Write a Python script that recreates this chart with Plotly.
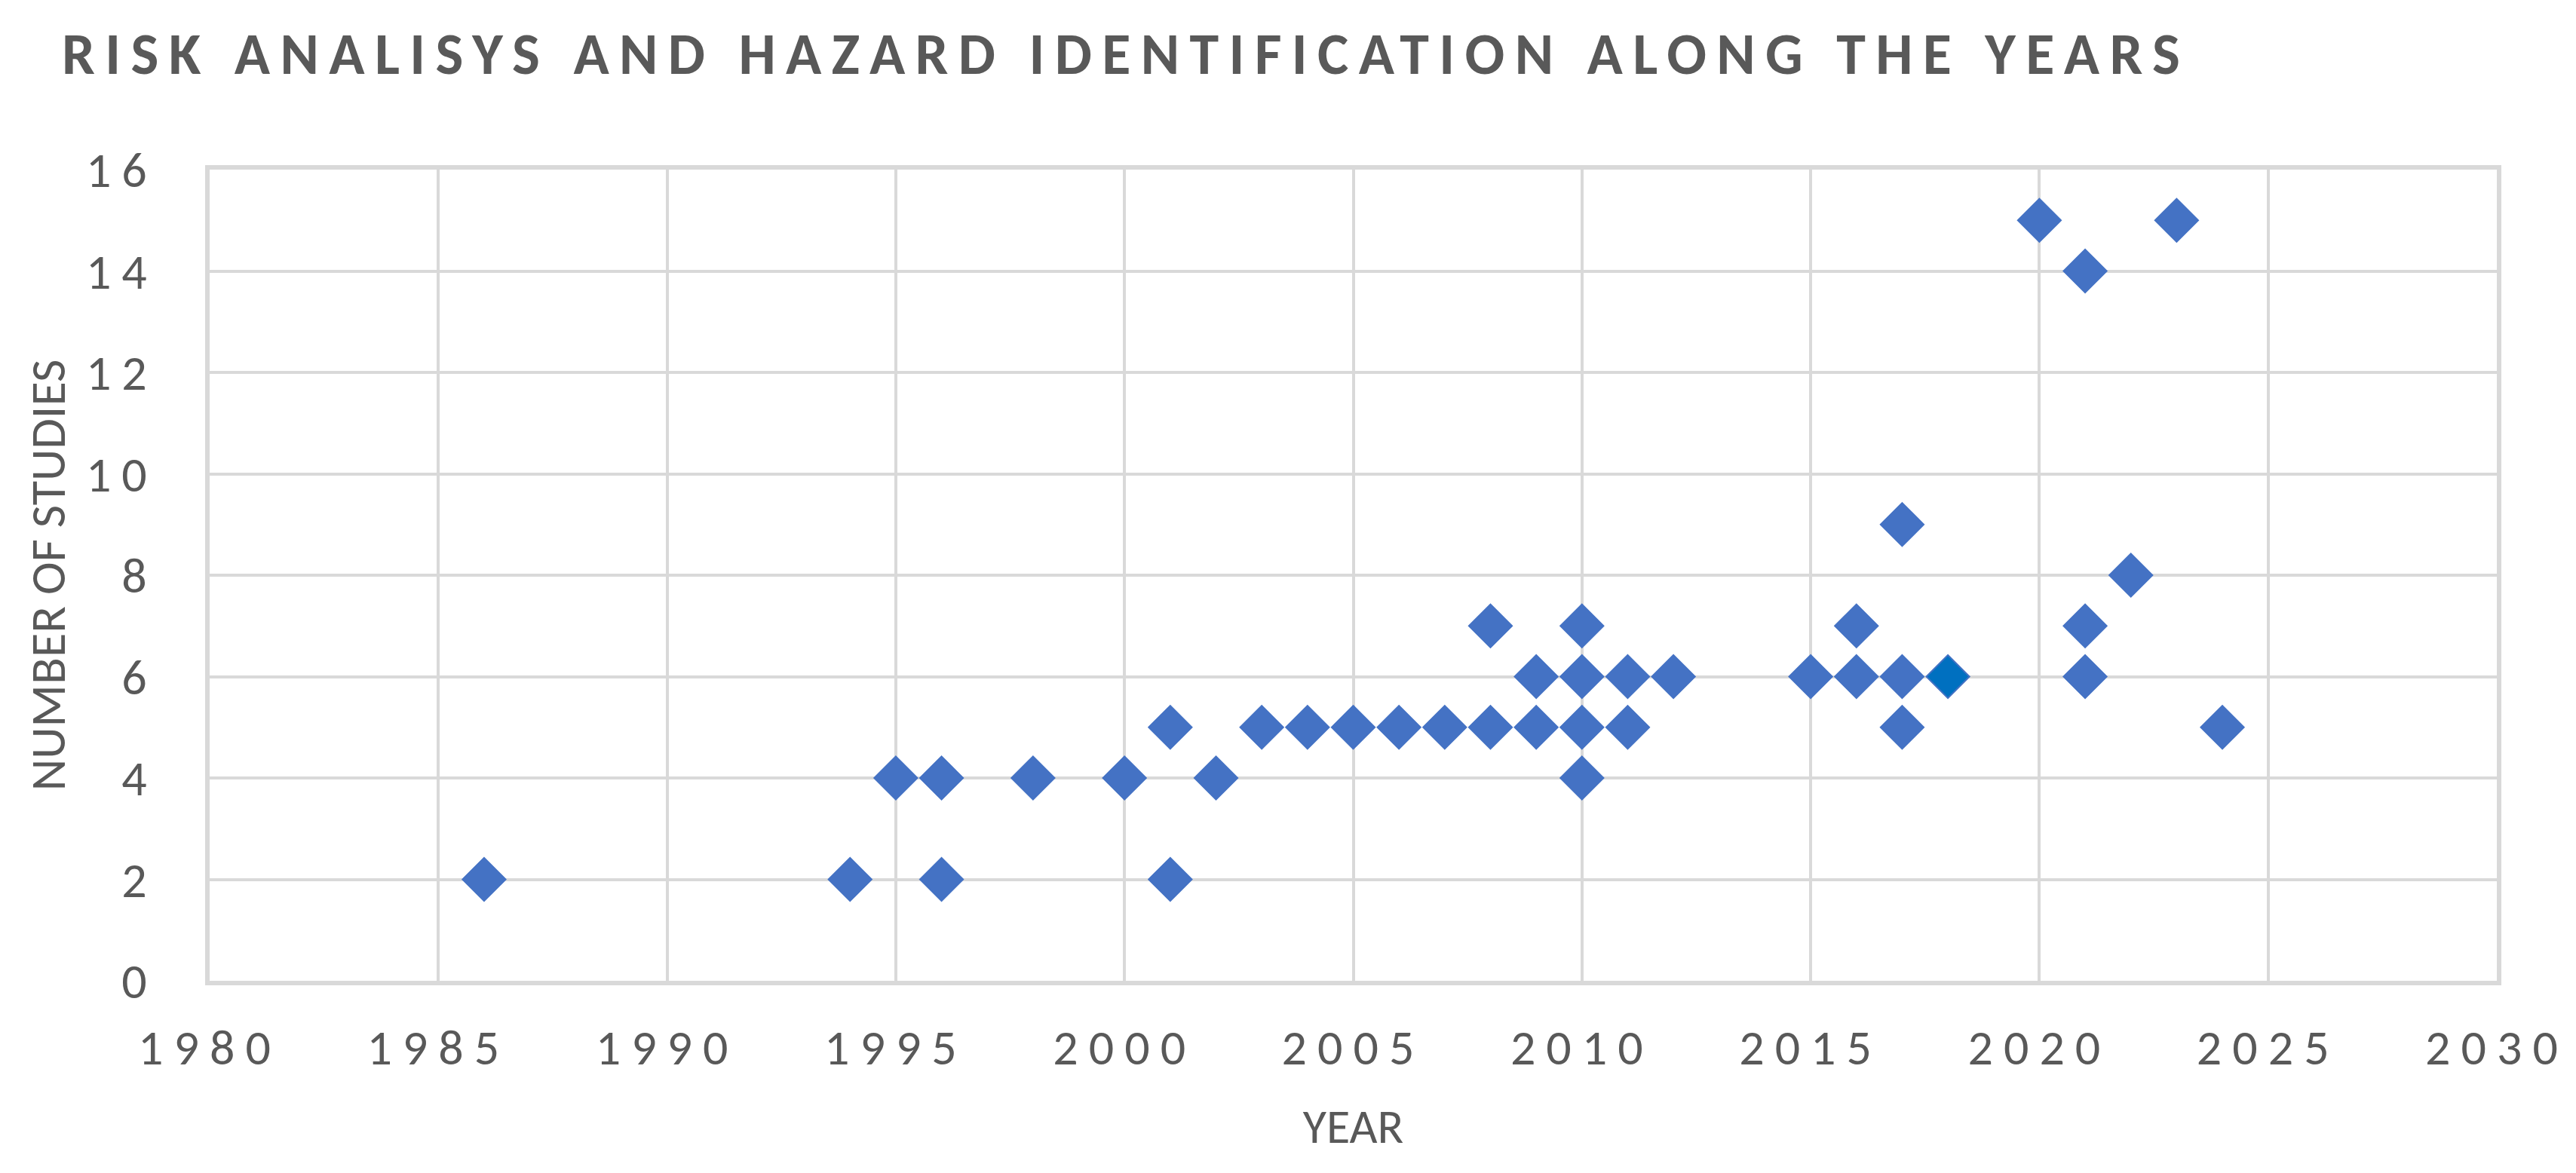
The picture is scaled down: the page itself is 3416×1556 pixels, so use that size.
import plotly.graph_objects as go

years = [1986, 1994, 1995, 1996, 1996, 1998, 2000, 2001, 2001, 2002,
         2003, 2004, 2005, 2006, 2007, 2008, 2008, 2009, 2009,
         2010, 2010, 2010, 2010, 2011, 2011, 2012, 2015, 2016, 2016,
         2017, 2017, 2017, 2018, 2020, 2021, 2021, 2021, 2022, 2023, 2024]
studies = [2, 2, 4, 4, 2, 4, 4, 5, 2, 4,
           5, 5, 5, 5, 5, 7, 5, 6, 5,
           7, 6, 5, 4, 6, 5, 6, 6, 7, 6,
           9, 6, 5, 6, 15, 14, 7, 6, 8, 15, 5]
highlight_year, highlight_value = 2018, 6

x_ticks = list(range(1980, 2031, 5))
y_ticks = list(range(0, 17, 2))

BLUE = "#4472C4"
DARK_BLUE = "#0070C0"
GREY = "#595959"
GRID = "#D9D9D9"
FONT = "Carlito, Lato, 'Open Sans', sans-serif"

fills = [DARK_BLUE if (x == highlight_year and y == highlight_value) else BLUE
         for x, y in zip(years, studies)]

def spaced(t, sp):
    return f'<span style="letter-spacing:{sp}px">{t}</span>'

fig = go.Figure()
fig.add_trace(go.Scatter(
    x=years, y=studies, mode="markers",
    marker=dict(symbol="diamond", size=44, color=fills,
                line=dict(color=BLUE, width=2)),
    showlegend=False,
))

fig.update_layout(
    width=3416, height=1556,
    margin=dict(l=270, r=113, t=217, b=263),
    paper_bgcolor="white", plot_bgcolor="white",
    font=dict(family=FONT, color=GREY, size=64),
    title=dict(
        text=spaced("RISK ANALISYS AND HAZARD IDENTIFICATION ALONG THE YEARS", 13.4),
        x=74/3416, xanchor="left", xref="container",
        y=1-63/1556, yanchor="middle", yref="container",
        font=dict(family=FONT, size=78, color=GREY, weight="bold"),
    ),
)

fig.update_xaxes(
    range=[1980, 2030], tickvals=x_ticks,
    ticktext=[spaced(str(v), 14) for v in x_ticks],
    showgrid=True, gridcolor=GRID, gridwidth=4,
    showline=True, linecolor=GRID, linewidth=6, mirror=True,
    zeroline=False, ticks="", ticklabelstandoff=26,
    tickfont=dict(size=66, color=GREY),
    title=dict(text="YEAR", font=dict(size=64, color=GREY), standoff=44),
)
fig.update_yaxes(
    range=[0, 16], tickvals=y_ticks,
    ticktext=[spaced(str(v), 14) for v in y_ticks],
    showgrid=True, gridcolor=GRID, gridwidth=4,
    showline=True, linecolor=GRID, linewidth=6, mirror=True,
    zeroline=False, ticks="", ticklabelstandoff=50,
    tickfont=dict(size=66, color=GREY),
    title=dict(text="NUMBER OF STUDIES", font=dict(size=66, color=GREY), standoff=8),
)

fig.write_html("out.html")
